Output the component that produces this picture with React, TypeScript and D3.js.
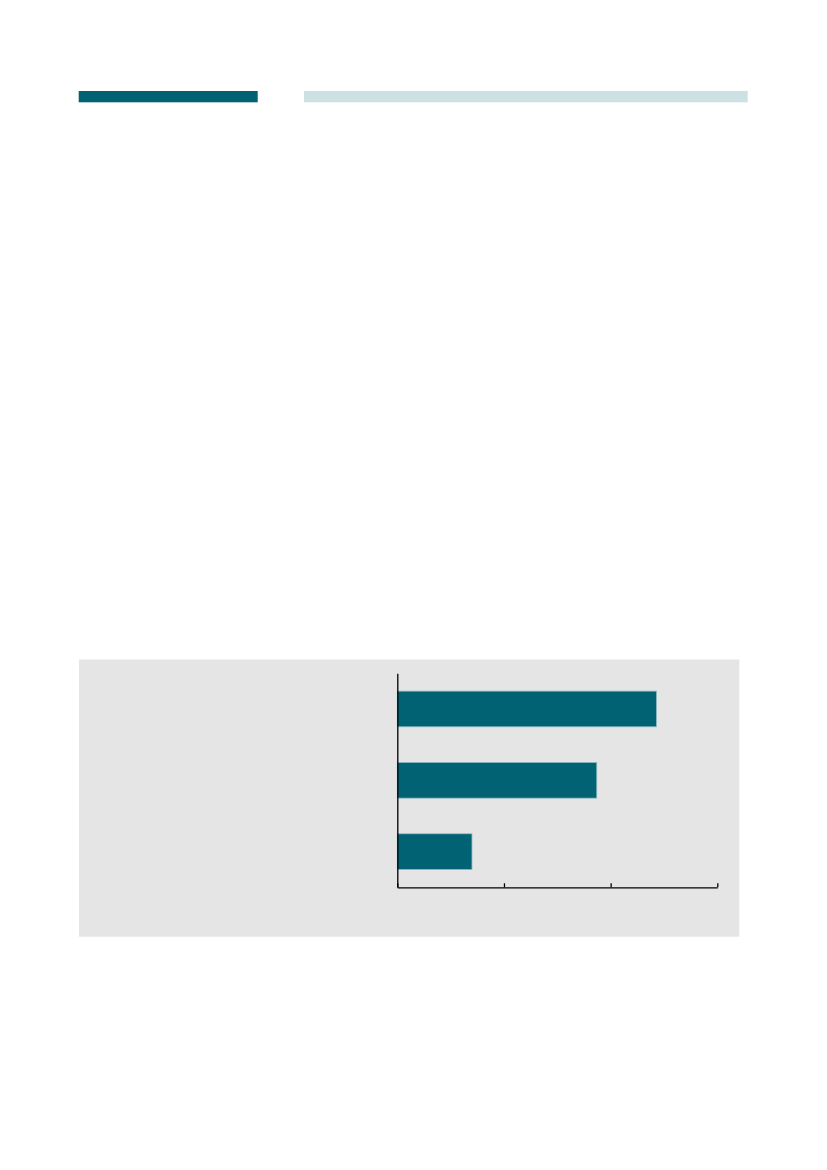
import React, { useEffect, useRef } from "react";
import * as d3 from "d3";

const categories = ["A", "B", "C"];
const values = [2.43, 1.87, 0.7];
const xTicks = [0, 1, 2, 3];

const W = 827;
const H = 1170;

export default function App() {
  const ref = useRef<SVGSVGElement | null>(null);

  useEffect(() => {
    const svg = d3.select(ref.current);
    svg.selectAll("*").remove();

    // header rules
    svg.append("rect").attr("x", 78.7).attr("y", 91).attr("width", 179).attr("height", 11.3).attr("fill", "#006272");
    svg.append("rect").attr("x", 304).attr("y", 91).attr("width", 443.7).attr("height", 11.3).attr("fill", "#cde0e4");

    // panel
    svg.append("rect").attr("x", 79).attr("y", 659.5).attr("width", 660.3).attr("height", 277.2).attr("fill", "#e5e5e5");

    const x = d3.scaleLinear().domain([0, 3]).range([397.3, 717.3]);
    const y = d3.scaleBand<string>().domain(categories).range([673.3, 887.3]).paddingInner(0.5).paddingOuter(0.25);

    svg
      .append("g")
      .selectAll("rect")
      .data(categories)
      .join("rect")
      .attr("x", x(0))
      .attr("y", (d) => y(d)!)
      .attr("width", (_d, i) => x(values[i]) - x(0))
      .attr("height", y.bandwidth())
      .attr("fill", "#006272")
      .attr("stroke", "#8dbbc2")
      .attr("stroke-width", 0.8);

    const xAxis = svg
      .append("g")
      .attr("transform", `translate(0,${887.3})`)
      .call(
        d3
          .axisBottom(x)
          .tickValues(xTicks)
          .tickSizeInner(-4)
          .tickSizeOuter(0)
          .tickFormat(() => "")
      );
    xAxis.selectAll("path, line").attr("stroke", "#000").attr("stroke-width", 1.3);

    const yAxis = svg
      .append("g")
      .attr("transform", `translate(${397.3},0)`)
      .call(d3.axisLeft(y).tickSize(0).tickFormat(() => ""));
    yAxis.select("path").attr("stroke", "#000").attr("stroke-width", 1.3);
  }, []);

  return (
    <svg
      ref={ref}
      width={W}
      height={H}
      style={{ position: "absolute", left: 0, top: 0, background: "#fff" }}
    />
  );
}
